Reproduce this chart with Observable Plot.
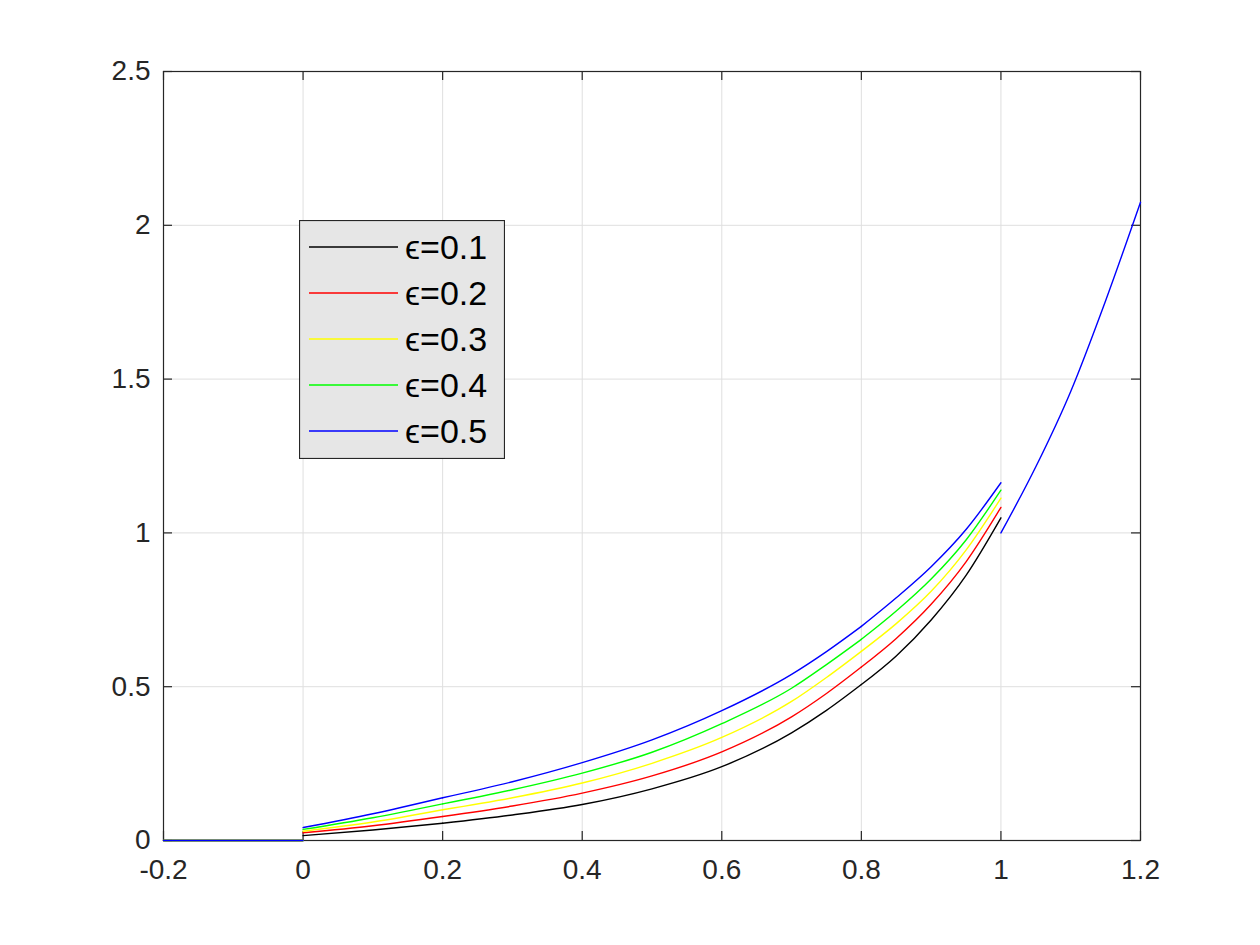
<!DOCTYPE html>
<html>
<head>
<meta charset="utf-8">
<script src="https://cdn.jsdelivr.net/npm/d3@7"></script>
<script src="https://cdn.jsdelivr.net/npm/@observablehq/plot@0.6"></script>
<style>
  body { margin: 0; background: #ffffff; }
  #wrap { position: relative; width: 1260px; height: 945px; }
  #legend { position: absolute; left: 299px; top: 220px; }
</style>
</head>
<body>
<div id="wrap"></div>
<script>
// ---- data ----
const seriesNames = ["ϵ=0.1", "ϵ=0.2", "ϵ=0.3", "ϵ=0.4", "ϵ=0.5"];
const seriesColors = ["#000000", "#ff0000", "#ffff00", "#00ff00", "#0000ff"];

const xTicks = [-0.2, 0, 0.2, 0.4, 0.6, 0.8, 1, 1.2];
const yTicks = [0, 0.5, 1, 1.5, 2, 2.5];

// flat part x < 0
const leftX = [-0.2, 0];
const leftY = [0, 0];

// main part 0 <= x <= 1
const midX = [0, 0.1, 0.2, 0.3, 0.4, 0.5, 0.6, 0.7, 0.75, 0.8, 0.85, 0.9, 0.95, 1.0];
const eps01 = [0.016, 0.034, 0.056, 0.083, 0.117, 0.168, 0.240, 0.350, 0.423, 0.507, 0.600, 0.717, 0.862, 1.049];
const eps02 = [0.025, 0.048, 0.078, 0.112, 0.154, 0.210, 0.288, 0.402, 0.478, 0.564, 0.657, 0.768, 0.906, 1.083];
const eps03 = [0.030, 0.060, 0.100, 0.139, 0.187, 0.251, 0.335, 0.452, 0.530, 0.615, 0.705, 0.810, 0.944, 1.113];
const eps04 = [0.036, 0.074, 0.119, 0.165, 0.219, 0.287, 0.380, 0.495, 0.572, 0.654, 0.746, 0.850, 0.977, 1.139];
const eps05 = [0.042, 0.087, 0.139, 0.191, 0.253, 0.327, 0.422, 0.540, 0.614, 0.696, 0.789, 0.890, 1.011, 1.163];
const midValues = [eps01, eps02, eps03, eps04, eps05];
const breakPoints = [0, 0.2, 0.8, 1.0];

// right part x > 1 (eps = 0.5 drawn on top)
const rightX = [1.0, 1.05, 1.1, 1.15, 1.2];
const rightY = [1.0, 1.215, 1.46, 1.755, 2.075];

// ---- build rows ----
const rows = [];
seriesNames.forEach((s, i) => {
  leftX.forEach((x, j) => rows.push({x, y: leftY[j], s, k: s + "|L"}));
  for (let b = 0; b < breakPoints.length - 1; b++) {
    const a = breakPoints[b], c = breakPoints[b + 1];
    midX.forEach((x, j) => {
      if (x >= a - 1e-9 && x <= c + 1e-9) rows.push({x, y: midValues[i][j], s, k: s + "|M" + b});
    });
  }
});
rightX.forEach((x, j) => rows.push({x, y: rightY[j], s: seriesNames[4], k: seriesNames[4] + "|R"}));

const W = 1260, H = 945;
const mTop = 71, mRight = 120, mBottom = 105, mLeft = 163;
const iw = W - mLeft - mRight, ih = H - mTop - mBottom;
const tickLen = 9;
const axisColor = "#262626";
const fontFam = "'Liberation Sans', Arial, sans-serif";
const fmt = d => String(+d.toFixed(1));

const chart = Plot.plot({
  width: W, height: H,
  marginTop: mTop, marginRight: mRight, marginBottom: mBottom, marginLeft: mLeft,
  style: {fontFamily: fontFam, fontSize: "28px", color: axisColor, background: "#ffffff"},
  x: {domain: [-0.2, 1.2]},
  y: {domain: [0, 2.5]},
  color: {domain: seriesNames, range: seriesColors},
  marks: [
    Plot.gridX(xTicks, {stroke: "#dfdfdf", strokeOpacity: 1, strokeWidth: 1}),
    Plot.gridY(yTicks, {stroke: "#dfdfdf", strokeOpacity: 1, strokeWidth: 1}),
    Plot.frame({stroke: axisColor, strokeWidth: 1.2}),
    Plot.tickX(xTicks, {stroke: axisColor, strokeWidth: 1.2, insetTop: ih - tickLen}),
    Plot.tickX(xTicks, {stroke: axisColor, strokeWidth: 1.2, insetBottom: ih - tickLen}),
    Plot.tickY(yTicks, {stroke: axisColor, strokeWidth: 1.2, insetRight: iw - tickLen}),
    Plot.tickY(yTicks, {stroke: axisColor, strokeWidth: 1.2, insetLeft: iw - tickLen}),
    Plot.line(rows, {x: "x", y: "y", z: "k", stroke: "s", strokeWidth: 1.4, curve: "monotone-x"}),
    Plot.axisX(xTicks, {anchor: "bottom", tickSize: 0, tickPadding: 19, tickFormat: fmt, label: null, fill: axisColor}),
    Plot.axisY(yTicks, {anchor: "left", tickSize: 0, tickPadding: 13, tickFormat: fmt, label: null, fill: axisColor})
  ]
});

const wrap = document.getElementById("wrap");
wrap.appendChild(chart);

// legend overlay (SVG)
const LW = 206, LH = 239, rowGap = 46, firstRow = 27;
const leg = d3.create("svg")
  .attr("id", "legend")
  .attr("width", LW).attr("height", LH)
  .attr("viewBox", `0 0 ${LW} ${LH}`);
leg.append("rect")
  .attr("x", 0.5).attr("y", 0.5).attr("width", LW - 1).attr("height", LH - 1)
  .attr("fill", "#e6e6e6").attr("stroke", axisColor).attr("stroke-width", 1.2);
const g = leg.selectAll("g.item").data(seriesNames).join("g")
  .attr("class", "item")
  .attr("transform", (d, i) => `translate(0,${firstRow + i * rowGap})`);
g.append("line")
  .attr("x1", 10).attr("x2", 99).attr("y1", 0).attr("y2", 0)
  .attr("stroke", (d, i) => seriesColors[i]).attr("stroke-width", 1.4);
g.append("text")
  .attr("x", 106).attr("y", 0).attr("dy", "0.36em")
  .attr("font-family", fontFam).attr("font-size", 34).attr("fill", "#000")
  .text(d => d);
wrap.appendChild(leg.node());
</script>
</body>
</html>
